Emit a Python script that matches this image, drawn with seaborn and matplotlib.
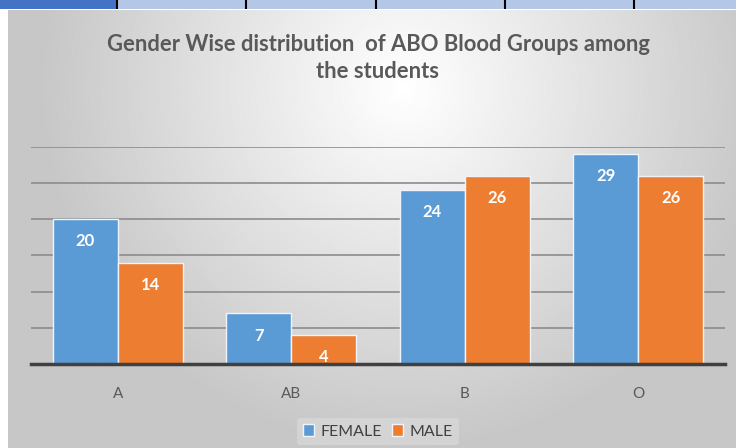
import numpy as np
import pandas as pd
import seaborn as sns
import matplotlib.pyplot as plt
from matplotlib.patches import Rectangle

groups = ["A", "AB", "B", "O"]
female = [20, 7, 24, 29]
male = [14, 4, 26, 26]

df = pd.DataFrame({
    "Group": groups * 2,
    "Count": female + male,
    "Gender": ["FEMALE"] * 4 + ["MALE"] * 4,
})

sns.set_style("white")
plt.rcParams["font.family"] = ["Lato", "DejaVu Sans"]

fig = plt.figure(figsize=(7.36, 4.48), dpi=100)

# radial grey background panel
W, H = 736, 448
yy, xx = np.mgrid[0:H, 0:W]
r = np.sqrt(((xx - 400) / 400.0) ** 2 + ((yy - 80) / 400.0) ** 2)
shade = np.clip(1.0 - 0.24 * r, 0.78, 1.0)
bg = fig.add_axes([8 / W, 0, 1 - 8 / W, (H - 10) / H], zorder=-2)
bg.imshow(shade, cmap="gray", vmin=0, vmax=1, aspect="auto", extent=[0, 1, 0, 1])
bg.axis("off")

# header strip on top
strip = fig.add_axes([0, (H - 9) / H, 1, 9 / H], zorder=-1)
strip.set_xlim(0, W)
strip.set_ylim(0, 1)
strip.add_patch(Rectangle((0, 0), 117, 1, color="#4472C4"))
strip.add_patch(Rectangle((117, 0), W - 117, 1, color="#B4C7E7"))
for xd in [117, 246, 376, 505, 634]:
    strip.axvline(xd, color="black", lw=1.5)
strip.axis("off")

ax = fig.add_axes([31 / W, 84 / H, (725 - 31) / W, (364 - 146.5) / H])
ax.patch.set_alpha(0)
sns.barplot(data=df, x="Group", y="Count", hue="Gender",
            palette=["#5B9BD5", "#ED7D31"], width=0.75, gap=0.0,
            edgecolor="#f0f4fa", linewidth=1.0, saturation=1, ax=ax, zorder=3)

for cont in ax.containers:
    for bar in cont:
        h = bar.get_height()
        ax.text(bar.get_x() + bar.get_width() / 2, h - 3.1, f"{int(h)}",
                ha="center", va="center", color="white",
                fontsize=12, fontweight="bold", zorder=4)

ax.set_ylim(0, 30)
ax.set_xlim(-0.5, 3.5)
ax.set_yticks(range(5, 31, 5))
ax.yaxis.grid(True, color="#8c8c8c", lw=1.2)
ax.set_axisbelow(True)
ax.tick_params(axis="y", left=False, labelleft=False)
ax.tick_params(axis="x", bottom=False, labelsize=11, labelcolor="#595959", pad=13)
ax.set_xlabel("")
ax.set_ylabel("")
for s in ["top", "right", "left"]:
    ax.spines[s].set_visible(False)
ax.spines["bottom"].set_color("#404040")
ax.spines["bottom"].set_linewidth(2.5)
ax.spines["bottom"].set_zorder(5)

leg = ax.legend(loc="center", bbox_to_anchor=(0.5, -0.31), ncol=2,
                frameon=True, fontsize=11.5, handlelength=0.7, handleheight=0.7,
                handletextpad=0.4, columnspacing=0.6, borderpad=0.4)
leg.get_frame().set_facecolor("#dcdcdc")
leg.get_frame().set_edgecolor("none")
leg.get_frame().set_alpha(0.6)
for t in leg.get_texts():
    t.set_color("#404040")

fig.text(378 / W, 1 - 58 / H,
         "Gender Wise distribution  of ABO Blood Groups among\nthe students",
         ha="center", va="center", fontsize=15.8, fontweight="bold",
         color="#595959", linespacing=1.3)

fig.savefig("out.png", dpi=100)
